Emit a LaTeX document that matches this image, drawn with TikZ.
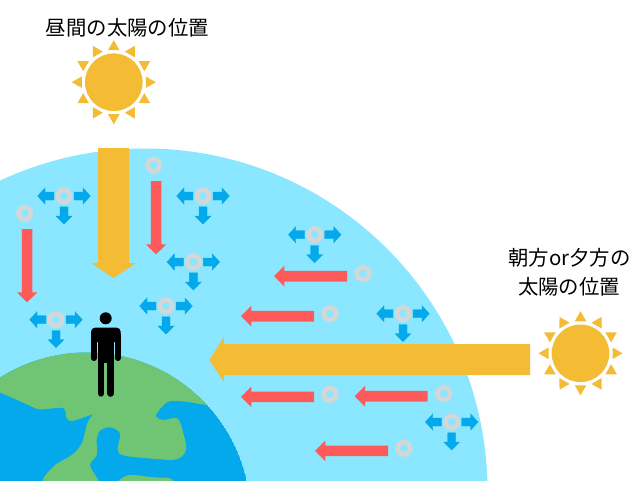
\documentclass[tikz,border=0pt]{standalone}
\usepackage{fontspec}
\newfontfamily\jpfont{Noto Sans CJK JP}
\definecolor{skyc}{HTML}{8BE7FF}
\definecolor{oceanc}{HTML}{03A9EA}
\definecolor{landc}{HTML}{70C574}
\definecolor{sunc}{HTML}{F4BB35}
\definecolor{redc}{HTML}{FF5A5A}
\definecolor{ringc}{HTML}{D6D6D6}
\tikzset{
  sunshape/.style={fill=sunc,draw=none},
  heatarrow/.style={fill=redc,draw=none},
  scatarrow/.style={fill=oceanc,draw=oceanc,line width=.4pt},
  particle/.style={draw=ringc,line width=4.6pt,fill=none},
  caption/.style={font=\jpfont\fontsize{20.4}{30}\selectfont,text=black,align=center,inner sep=0pt},
}
\newcommand\sunAt[2]{%
  \fill[sunshape] (#1,#2) circle[radius=28.8];
  \foreach \a in {0,30,...,330}{
    \fill[sunshape,shift={(#1,#2)},rotate=\a] (0,-42) -- (5.8,-32) -- (-5.8,-32) -- cycle;
  }}
\newcommand\scatAt[2]{%
  \begin{scope}[shift={(#1,#2)}]
    \filldraw[scatarrow] (-26.3,0) -- (-19,-8) -- (-19,-4) -- (-10,-4) -- (-10,4) -- (-19,4) -- (-19,8) -- cycle;
    \filldraw[scatarrow] (26.3,0) -- (19,-8) -- (19,-4) -- (10,-4) -- (10,4) -- (19,4) -- (19,8) -- cycle;
    \filldraw[scatarrow] (0,28) -- (-8,20) -- (-4,20) -- (-4,10.8) -- (4,10.8) -- (4,20) -- (8,20) -- cycle;
    \draw[particle] (0,0) circle[radius=6.2];
  \end{scope}}
\newcommand\heatLeft[2]{%
  \draw[particle] (#1,#2) circle[radius=6.2];
  \begin{scope}[shift={(#1,#2)}]
    \fill[heatarrow] (-89,2.5) -- (-78.7,-7.8) -- (-78.7,-2.8) -- (-16,-2.8) -- (-16,7.8) -- (-78.7,7.8) -- (-78.7,12.8) -- cycle;
  \end{scope}}
\newcommand\heatDown[2]{%
  \draw[particle] (#1,#2) circle[radius=6.2];
  \begin{scope}[shift={(#1,#2)}]
    \fill[heatarrow] (2.4,89) -- (-7.9,79) -- (-2.9,79) -- (-2.9,15.8) -- (7.7,15.8) -- (7.7,79) -- (12.7,79) -- cycle;
  \end{scope}}
\begin{document}
\begin{tikzpicture}[x=1pt,y=-1pt]
\useasboundingbox (0,0) rectangle (640,480);
\fill[white] (0,0) rectangle (640,480);
\begin{scope}
  \clip (0,0) rectangle (640,480);
  \fill[skyc] (145,491) circle[radius=342.5];
  \begin{scope}
    \clip (87,516) circle[radius=163.5];
    \fill[oceanc] (87,516) circle[radius=163.5];
    \fill[landc]
      plot[smooth,tension=.55] coordinates {(-6,390) (0,392.5) (15,399) (30,405.7) (40,409.3) (60,407.7) (65,410) (66.7,418.3) (71.7,421) (82,418) (93.3,414)}
      -- plot[smooth,tension=.55] coordinates {(93.3,414) (87.3,423.3) (81.7,443.3) (71.7,455) (55,465) (43.3,478.3) (44,484)}
      -- plot[smooth,tension=.55] coordinates {(100,484) (98.3,480) (90,465) (96.7,455) (96.7,440) (100,430.7) (110,427.3) (120,433.3) (117.7,450) (125,455.7) (156.7,459) (176.7,459.3) (186,450) (183.3,433.3) (177.3,418.3) (163.3,420) (156,415) (168.3,401.7) (185,401.7) (200,404) (215,406)}
      -- (215,340) -- (-6,340) -- cycle;
    \fill[landc] plot[smooth,tension=.55] coordinates {(116,484) (119.3,480) (130,475) (153.3,477.3) (170,478.3) (175,484)} -- cycle;
  \end{scope}
\end{scope}
% person
\fill[black] (105.7,318.3) circle[radius=6];
\fill[black,rounded corners=4pt] (91,327.7) rectangle (120.7,342);
\draw[black,line width=5.7pt,line cap=round] (93.85,335) -- (93.85,358.2);
\draw[black,line width=5.7pt,line cap=round] (117.85,335) -- (117.85,358.2);
\fill[black] (98,330) rectangle (114,362.5);
\draw[black,line width=6.4pt,line cap=round] (101.2,360) -- (101.2,393.5);
\draw[black,line width=6.6pt,line cap=round] (110.6,360) -- (110.6,393.5);
% suns
\sunAt{113.8}{82.2}
\sunAt{580.5}{353.3}
% big arrows
\fill[sunshape] (98,148) -- (129,148) -- (129,263) -- (136,263) -- (113.5,278) -- (91,263) -- (98,263) -- cycle;
\fill[sunshape] (530,344) -- (530,375) -- (224,375) -- (224,382) -- (209.3,360) -- (224,337) -- (224,344) -- cycle;
% red arrows
\heatDown{153.7}{165.3}
\heatDown{24.7}{213.3}
\heatLeft{363}{273.7}
\heatLeft{330}{313.7}
\heatLeft{330}{394.3}
\heatLeft{443.7}{393.7}
\heatLeft{404}{448.3}
% scattering
\scatAt{64}{196}
\scatAt{203}{196}
\scatAt{314.7}{234.7}
\scatAt{193.3}{262}
\scatAt{166}{306}
\scatAt{56}{319.7}
\scatAt{403}{313.7}
\scatAt{451.7}{422}
% text
\node[caption] (noon) at (127.5,28) {昼間の太陽の位置};
\node[caption] (morning) at (569.5,257.5) {朝方or夕方の};
\node[caption] (morning2) at (569,287) {太陽の位置};
\end{tikzpicture}
\end{document}
